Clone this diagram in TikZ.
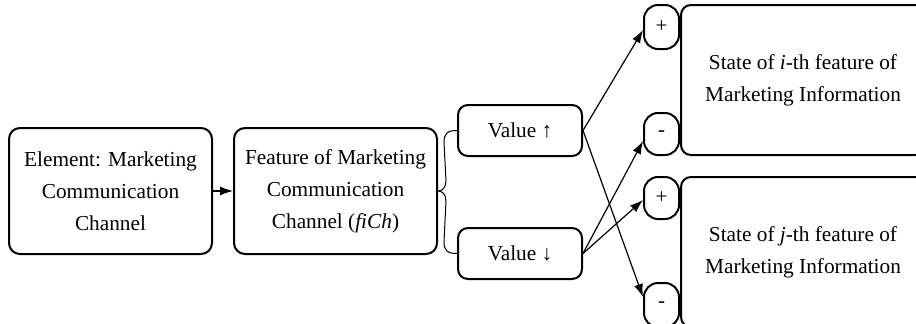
\documentclass[tikz,border=0pt]{standalone}
\usepackage{fontspec}
\setmainfont{Liberation Serif}
\usetikzlibrary{arrows.meta,calc}
\begin{document}
\begin{tikzpicture}[x=1pt,y=-1pt,
  box/.style={draw,line width=2pt,rounded corners=11pt,inner sep=0pt,align=center,
    font=\fontsize{21.3}{32}\selectfont},
  pill/.style={draw,line width=2pt,rounded corners=14pt,inner sep=0pt,
    minimum width=35pt,font=\fontsize{21}{22}\selectfont},
  conn/.style={line width=1.2pt,-{Latex[length=13pt,width=9pt]}},
  brace/.style={line width=1pt}]
\useasboundingbox (0,0) rectangle (916,324);
\node[box,minimum width=203pt,minimum height=126pt] (e1) at (110.5,191)
  {Element: Marketing\\Communication\\Channel};
\node[box,minimum width=203pt,minimum height=126pt] (e2) at (335.5,191)
  {Feature of Marketing\\Communication\\Channel (\textit{fiCh})};
\node[box,minimum width=124pt,minimum height=51pt,rounded corners=10pt] (vu) at (520,130.5) {Value ↑};
\node[box,minimum width=124pt,minimum height=51pt,rounded corners=10pt] (vd) at (520,253.5) {Value ↓};
\node[pill,minimum height=44pt] (p1) at (661.5,27) {+};
\node[pill,minimum height=42pt] (m1) at (661.5,134) {-};
\node[pill,minimum height=42pt] (p2) at (661.5,198) {+};
\node[pill,minimum height=44pt] (m2) at (661.5,305) {-};
\node[box,minimum width=244pt,minimum height=150pt,rounded corners=10pt] (s1) at (803,80)
  {State of \textit{i}-th feature of\\Marketing Information};
\node[box,minimum width=244pt,minimum height=150pt,rounded corners=10pt] (s2) at (803,252)
  {State of \textit{j}-th feature of\\Marketing Information};
\draw[conn] (e1) -- (e2);
\draw[brace] (vu.west) .. controls ($(vu.west)+(-10,0)$) and ($(vu.west)+(-13,3)$) .. ($(vu.west)+(-13,12)$)
  -- ($(e2.east)+(8,-10)$) .. controls ($(e2.east)+(8,-3)$) and ($(e2.east)+(4,0)$) .. (e2.east)
  .. controls ($(e2.east)+(4,0)$) and ($(e2.east)+(8,3)$) .. ($(e2.east)+(8,10)$)
  -- ($(vd.west)+(-13,-12)$) .. controls ($(vd.west)+(-13,-3)$) and ($(vd.west)+(-10,0)$) .. (vd.west);
\draw[conn] (vu.east) -- ($(p1.west)+(0,3)$);
\draw[conn] (vu.east) -- ($(m2.west)+(0,-8)$);
\draw[conn] (vd.east) -- ($(m1.west)+(0,7)$);
\draw[conn] (vd.east) -- ($(p2.west)+(0,2)$);
\end{tikzpicture}
\end{document}
